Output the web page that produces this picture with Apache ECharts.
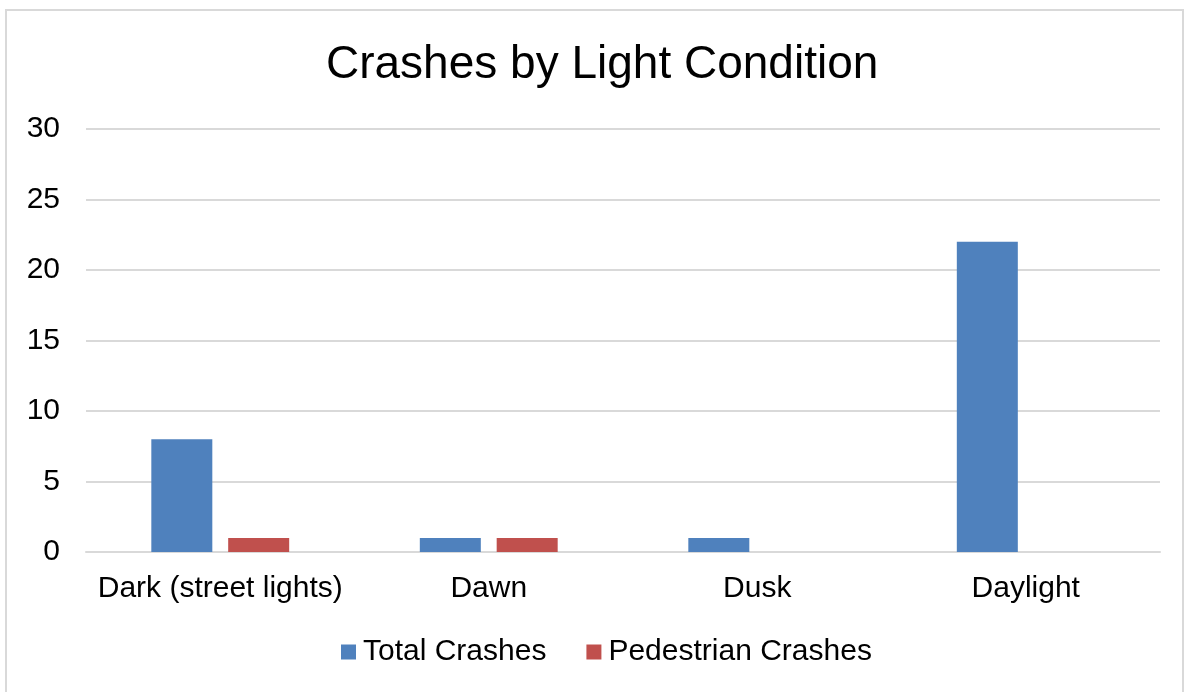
<!DOCTYPE html>
<html>
<head>
<meta charset="utf-8">
<style>
  html, body { margin: 0; padding: 0; background: #fff; }
  #chart { width: 1188px; height: 692px; }
</style>
<script src="https://cdn.jsdelivr.net/npm/echarts@6/dist/echarts.min.js"></script>
</head>
<body>
<div id="chart"></div>
<script>
const categories = ['Dark (street lights)', 'Dawn', 'Dusk', 'Daylight'];
const totalCrashes = [8, 1, 1, 22];
const pedestrianCrashes = [1, 1, 0, 0];
const seriesNames = ['Total Crashes', 'Pedestrian Crashes'];

const chart = echarts.init(document.getElementById('chart'), null, { renderer: 'canvas' });
const FONT = '"Liberation Sans", Arial, sans-serif';

chart.setOption({
  backgroundColor: '#ffffff',
  animation: false,
  title: {
    text: 'Crashes by Light Condition',
    left: 321,
    top: 37,
    textStyle: { fontFamily: FONT, fontSize: 46, fontWeight: 'normal', color: '#000' }
  },
  graphic: [{
    type: 'rect',
    shape: { x: 6, y: 10, width: 1177, height: 690 },
    style: { fill: 'none', stroke: '#d9d9d9', lineWidth: 2 },
    silent: true
  }],
  legend: {
    data: seriesNames,
    bottom: 20,
    left: 336,
    itemWidth: 15,
    itemHeight: 15,
    itemGap: 40,
    icon: 'rect',
    textStyle: { fontFamily: FONT, fontSize: 30, color: '#000', padding: [0, 0, 0, 2] }
  },
  grid: { left: 86, right: 28, top: 129, bottom: 140, containLabel: false },
  xAxis: {
    type: 'category',
    data: categories,
    axisLine: { show: true, lineStyle: { color: '#d9d9d9', width: 2 } },
    axisTick: { show: false },
    axisLabel: { fontFamily: FONT, fontSize: 30, color: '#000', margin: 22, interval: 0 }
  },
  yAxis: {
    type: 'value',
    min: 0,
    max: 30,
    interval: 5,
    axisLine: { show: false },
    axisTick: { show: false },
    splitLine: { lineStyle: { color: '#d9d9d9', width: 2 } },
    axisLabel: { fontFamily: FONT, fontSize: 30, color: '#000', margin: 26, padding: [4, 0, 0, 0] }
  },
  series: [
    {
      name: seriesNames[0],
      type: 'bar',
      data: totalCrashes,
      barWidth: 61,
      barGap: '26%',
      itemStyle: { color: '#4F81BD' }
    },
    {
      name: seriesNames[1],
      type: 'bar',
      data: pedestrianCrashes,
      barWidth: 61,
      itemStyle: { color: '#C0504D' }
    }
  ]
});
</script>
</body>
</html>
